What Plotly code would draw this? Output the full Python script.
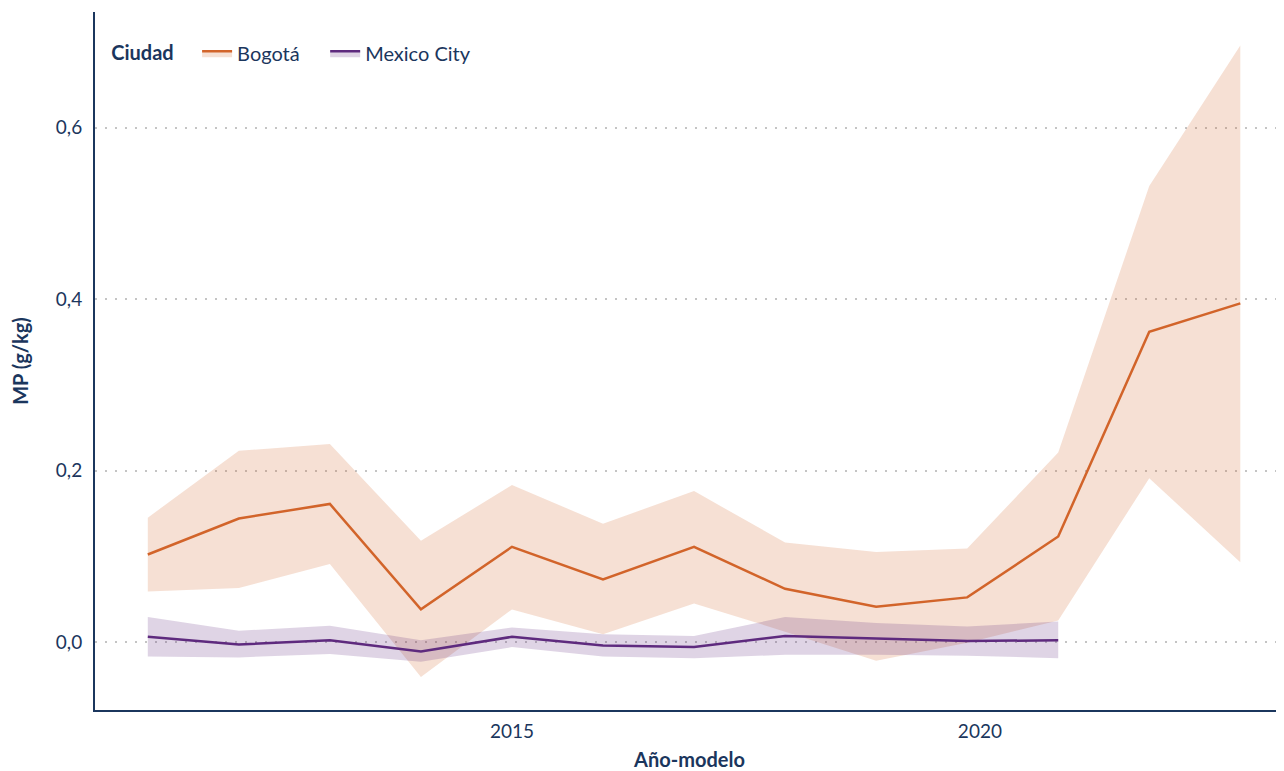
import plotly.graph_objects as go

# Año-modelo
years_bog = [2011, 2012, 2013, 2014, 2015, 2016, 2017, 2018, 2019, 2020, 2021, 2022, 2023]
years_mex = [2011, 2012, 2013, 2014, 2015, 2016, 2017, 2018, 2019, 2020, 2021]
tick_text = ['2015', '2020']
tick_vals = [2015, 2020.14]  # the source chart draws its "2020" label slightly right of the 2020 point

# MP (g/kg) - Bogotá
bog_mean = [0.102, 0.144, 0.161, 0.038, 0.111, 0.073, 0.111, 0.062, 0.041, 0.052, 0.123, 0.362, 0.395]
bog_upper = [0.145, 0.223, 0.231, 0.118, 0.183, 0.138, 0.176, 0.116, 0.105, 0.109, 0.221, 0.532, 0.696]
bog_lower = [0.059, 0.063, 0.091, -0.041, 0.038, 0.009, 0.045, 0.012, -0.022, -0.001, 0.025, 0.191, 0.093]

# MP (g/kg) - Mexico City
mex_mean = [0.006, -0.003, 0.002, -0.011, 0.006, -0.004, -0.006, 0.007, 0.004, 0.001, 0.002]
mex_upper = [0.029, 0.013, 0.019, 0.002, 0.017, 0.009, 0.007, 0.029, 0.022, 0.018, 0.024]
mex_lower = [-0.017, -0.018, -0.014, -0.023, -0.006, -0.017, -0.019, -0.015, -0.015, -0.016, -0.019]

navy = '#1B365D'
gap = '&nbsp;' * 4  # extra room between legend entries
series = [
  ('Bogotá', years_bog, bog_mean, bog_upper, bog_lower, '#D2642A', 'rgba(210,100,42,0.2)'),
  ('Mexico City', years_mex, mex_mean, mex_upper, mex_lower, '#5E2A7E', 'rgba(94,42,126,0.2)'),
]

fig = go.Figure()
for name, xs, mean, up, lo, col, band in series:
  # upper edge (no fill), mean fills down from upper, lower fills up to mean
  fig.add_trace(go.Scatter(x=xs, y=up, mode='lines', line=dict(width=0, color=band),
                           showlegend=False, hoverinfo='skip'))
  fig.add_trace(go.Scatter(x=xs, y=mean, mode='lines', name=name + gap, fill='tonexty',
                           fillcolor=band, line=dict(color=col, width=2.5)))
  fig.add_trace(go.Scatter(x=xs, y=lo, mode='lines', fill='tonexty', fillcolor=band,
                           line=dict(width=0, color=band), showlegend=False, hoverinfo='skip'))

# page body has an 8px margin, so the figure is 8px smaller than the window
fig.update_layout(
  width=1276, height=763,
  margin=dict(l=87, r=0, t=4, b=61, autoexpand=False),
  paper_bgcolor='white', plot_bgcolor='white',
  separators=',.',
  font=dict(family='Lato', size=19, color=navy),
  legend=dict(title=dict(text='<b>Ciudad</b>&nbsp;&nbsp;&nbsp;', side='left', font=dict(size=20)),
              orientation='h', traceorder='normal', x=0.012, y=0.969,
              xanchor='left', yanchor='top',
              font=dict(size=20), bgcolor='rgba(0,0,0,0)', itemwidth=30),
  showlegend=True,
)
fig.update_xaxes(range=[2010.42, 2023.48], tickvals=tick_vals, ticktext=tick_text, showgrid=False,
                 zeroline=False, showline=True, linecolor=navy, linewidth=2,
                 ticks='', ticklabelstandoff=3, automargin=False,
                 tickfont=dict(size=19),
                 title=dict(text='<b>Año-modelo</b>', font=dict(size=20), standoff=15))
fig.update_yaxes(range=[-0.0794, 0.735], tickvals=[0, 0.2, 0.4, 0.6], tickformat='.1f',
                 showgrid=True, gridcolor='#C4C4C4', griddash='2px,8px', gridwidth=2,
                 zeroline=False, showline=True, linecolor=navy, linewidth=2,
                 ticks='', ticklabelstandoff=7, automargin=False,
                 tickfont=dict(size=19),
                 title=dict(text='<b>MP (g/kg)</b>', font=dict(size=20), standoff=23))

fig.write_html("out.html")
